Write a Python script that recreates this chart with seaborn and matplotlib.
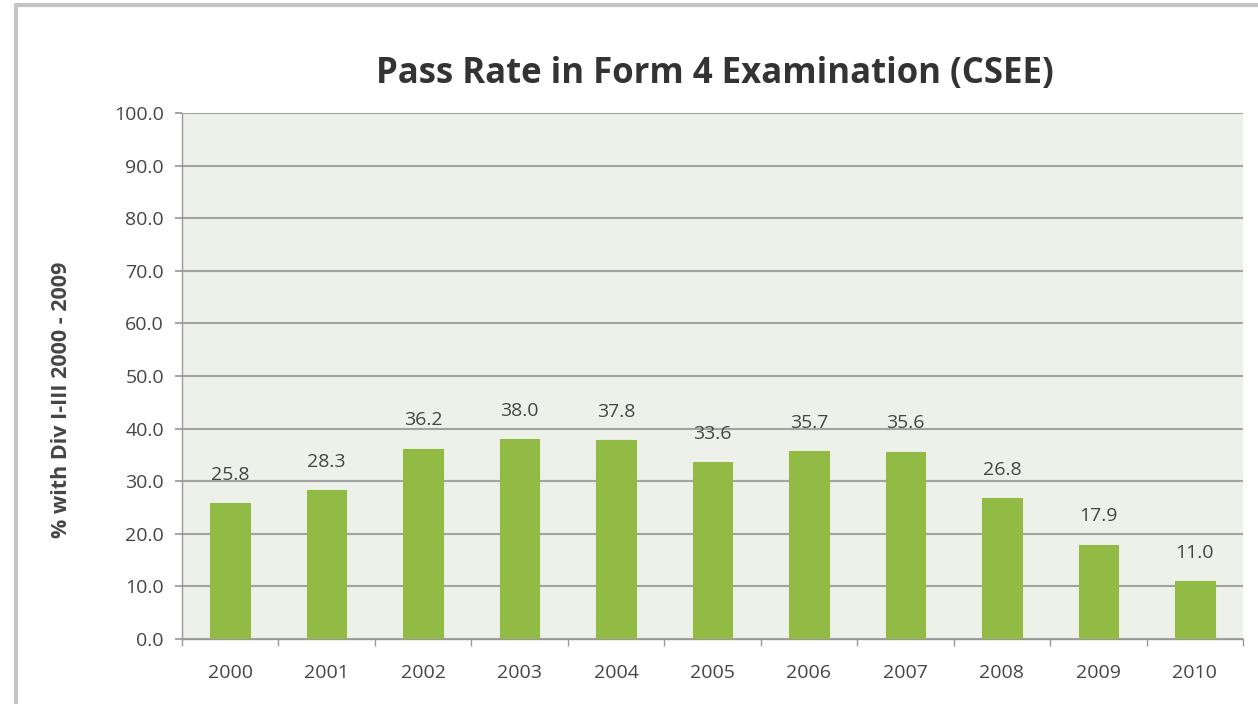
import matplotlib
matplotlib.use("Agg")
import matplotlib.pyplot as plt
import seaborn as sns
import pandas as pd
import numpy as np
from matplotlib.lines import Line2D
from matplotlib.ticker import FixedLocator

years = ["2000", "2001", "2002", "2003", "2004", "2005", "2006", "2007", "2008", "2009", "2010"]
pass_rate = [25.8, 28.3, 36.2, 38.0, 37.8, 33.6, 35.7, 35.6, 26.8, 17.9, 11.0]
y_ticks = [0, 10, 20, 30, 40, 50, 60, 70, 80, 90, 100]

title = "Pass Rate in Form 4 Examination (CSEE)"
y_label = "% with Div I-III 2000 - 2009"

sns.set_theme(style="white")
plt.rcParams["font.family"] = ["Open Sans", "DejaVu Sans"]

df = pd.DataFrame({"year": years, "rate": pass_rate})

fig = plt.figure(figsize=(12.58, 7.04), dpi=100)
fig.patch.set_facecolor("white")
ax = fig.add_axes([182 / 1258, 1 - 639 / 704, (1243 - 182) / 1258, (639 - 113) / 704])
ax.set_facecolor("#eef1ea")

bar_green = "#92bb45"
sns.barplot(data=df, x="year", y="rate", color=bar_green, width=0.41,
            saturation=1, ax=ax, zorder=3, edgecolor=bar_green, linewidth=0.8)

text_grey = "#454545"
for c in ax.containers:
    ax.bar_label(c, labels=[f"{v:.1f}" for v in pass_rate], padding=14,
                 fontsize=14, color=text_grey)

ax.set_ylim(0, 100)
ax.set_xlim(-0.5, len(years) - 0.5)
ax.set_yticks(y_ticks)
ax.set_yticklabels([f"{v:.1f}" for v in y_ticks], fontsize=14, color=text_grey)
ax.tick_params(axis="x", labelsize=14, labelcolor=text_grey, length=0, pad=18)
ax.tick_params(axis="y", length=5, color="#999999", pad=8, left=True, direction="out")
ax.xaxis.set_minor_locator(FixedLocator(np.arange(-0.5, len(years), 1.0)))
ax.tick_params(axis="x", which="minor", length=5, color="#999999", bottom=True)

ax.yaxis.grid(True, color="#a3a3a3", linewidth=1.5, zorder=0)
ax.set_axisbelow(True)
for side in ["top", "right"]:
    ax.spines[side].set_visible(False)
for side in ["left", "bottom"]:
    ax.spines[side].set_color("#999999")
    ax.spines[side].set_linewidth(1.0)

ax.set_xlabel("")
ax.set_ylabel(y_label, fontsize=15.5, fontweight="bold", color=text_grey)
ax.yaxis.set_label_coords(-(182 - 72) / (1243 - 182), (639 - 400) / (639 - 113))

fig.text(715 / 1258, 1 - 74 / 704, title, ha="center", va="center", fontsize=25,
         fontweight="bold", color="#333333")

# frame edges of the chart box
fig.add_artist(Line2D([16 / 1258, 16 / 1258], [0, 1 - 5 / 704], transform=fig.transFigure,
                      color="#c4c4c4", linewidth=3))
fig.add_artist(Line2D([16 / 1258, 1], [1 - 5 / 704, 1 - 5 / 704], transform=fig.transFigure,
                      color="#c4c4c4", linewidth=3))

fig.savefig("out.png", dpi=100, facecolor="white")
